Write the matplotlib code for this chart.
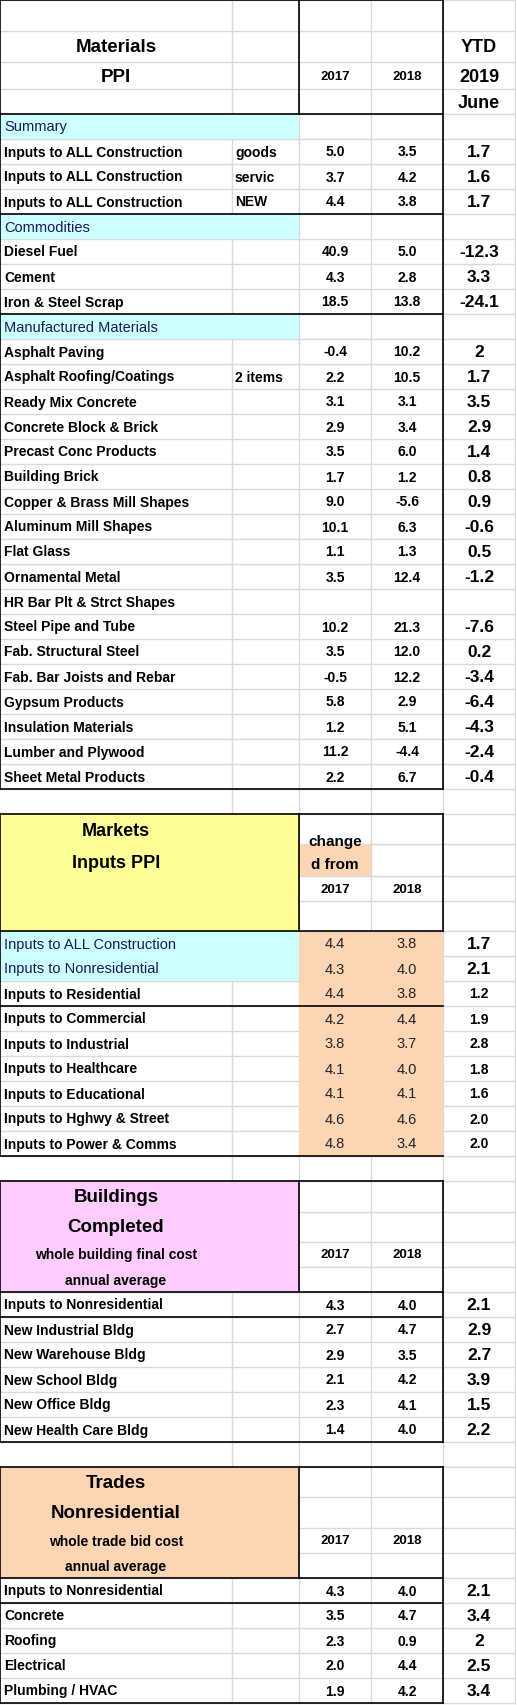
import matplotlib
matplotlib.use("Agg")
import matplotlib.pyplot as plt
from matplotlib.patches import Rectangle

plt.rcParams['font.family'] = ['Liberation Sans', 'DejaVu Sans']

# ---------------- DATA ----------------
mat_labels = ["Summary", "Inputs to ALL Construction", "Inputs to ALL Construction", "Inputs to ALL Construction",
              "Commodities", "Diesel Fuel", "Cement", "Iron & Steel Scrap", "Manufactured Materials",
              "Asphalt Paving", "Asphalt Roofing/Coatings", "Ready Mix Concrete", "Concrete Block & Brick",
              "Precast Conc Products", "Building Brick", "Copper & Brass Mill Shapes", "Aluminum Mill Shapes",
              "Flat Glass", "Ornamental Metal", "HR Bar Plt & Strct Shapes", "Steel Pipe and Tube",
              "Fab. Structural Steel", "Fab. Bar Joists and Rebar", "Gypsum Products", "Insulation Materials",
              "Lumber and Plywood", "Sheet Metal Products"]
mat_sub = ["", "goods", "servic", "NEW", "", "", "", "", "", "", "2 items"] + [""] * 16
mat_2017 = ["", "5.0", "3.7", "4.4", "", "40.9", "4.3", "18.5", "", "-0.4", "2.2", "3.1", "2.9", "3.5",
            "1.7", "9.0", "10.1", "1.1", "3.5", "", "10.2", "3.5", "-0.5", "5.8", "1.2", "11.2", "2.2"]
mat_2018 = ["", "3.5", "4.2", "3.8", "", "5.0", "2.8", "13.8", "", "10.2", "10.5", "3.1", "3.4", "6.0",
            "1.2", "-5.6", "6.3", "1.3", "12.4", "", "21.3", "12.0", "12.2", "2.9", "5.1", "-4.4", "6.7"]
mat_ytd = ["", "1.7", "1.6", "1.7", "", "-12.3", "3.3", "-24.1", "", "2", "1.7", "3.5", "2.9", "1.4",
           "0.8", "0.9", "-0.6", "0.5", "-1.2", "", "-7.6", "0.2", "-3.4", "-6.4", "-4.3", "-2.4", "-0.4"]
mat_cyan = [0, 4, 8]

mkt_labels = ["Inputs to ALL Construction", "Inputs to Nonresidential", "Inputs to Residential",
              "Inputs to Commercial", "Inputs to Industrial", "Inputs to Healthcare", "Inputs to Educational",
              "Inputs to Hghwy & Street", "Inputs to Power & Comms"]
mkt_2017 = ["4.4", "4.3", "4.4", "4.2", "3.8", "4.1", "4.1", "4.6", "4.8"]
mkt_2018 = ["3.8", "4.0", "3.8", "4.4", "3.7", "4.0", "4.1", "4.6", "3.4"]
mkt_ytd = ["1.7", "2.1", "1.2", "1.9", "2.8", "1.8", "1.6", "2.0", "2.0"]

bld_labels = ["Inputs to Nonresidential", "New Industrial Bldg", "New Warehouse Bldg", "New School Bldg",
              "New Office Bldg", "New Health Care Bldg"]
bld_2017 = ["4.3", "2.7", "2.9", "2.1", "2.3", "1.4"]
bld_2018 = ["4.0", "4.7", "3.5", "4.2", "4.1", "4.0"]
bld_ytd = ["2.1", "2.9", "2.7", "3.9", "1.5", "2.2"]

trd_labels = ["Inputs to Nonresidential", "Concrete", "Roofing", "Electrical", "Plumbing / HVAC"]
trd_2017 = ["4.3", "3.5", "2.3", "2.0", "1.9"]
trd_2018 = ["4.0", "4.7", "0.9", "4.4", "4.2"]
trd_ytd = ["2.1", "3.4", "2", "2.5", "3.4"]

# ---------------- LAYOUT ----------------
W, H = 517, 1705
fig = plt.figure(figsize=(W / 100, H / 100), dpi=100)
ax = fig.add_axes([0, 0, 1, 1])
ax.set_xlim(0, W)
ax.set_ylim(H, 0)
ax.axis('off')

COLS = [0, 232, 299, 371, 443, 515]
RH = 25
CYAN, YELLOW, PINK, PEACH = '#CCFFFF', '#FFFF99', '#FFCCFF', '#FCD5B4'
GRID = '#D9D9D9'
NAVY = '#1A1A50'

h_mat = [0, 31, 62, 89, 114]
mat_top = 114
mat_bot = mat_top + RH * len(mat_labels)
mkt_h = [mat_bot + RH, mat_bot + RH + 30, mat_bot + RH + 62, mat_bot + RH + 87, mat_bot + RH + 117]
mkt_top = mkt_h[-1]
mkt_bot = mkt_top + RH * len(mkt_labels)
bld_h = [mkt_bot + RH, mkt_bot + RH + 31, mkt_bot + RH + 61, mkt_bot + RH + 86, mkt_bot + RH + 111]
bld_top = bld_h[-1]
bld_bot = bld_top + RH * len(bld_labels)
trd_h = [bld_bot + RH, bld_bot + RH + 30, bld_bot + RH + 61, bld_bot + RH + 86, bld_bot + RH + 111]
trd_top = trd_h[-1]
trd_bot = trd_top + RH * len(trd_labels)

hlines = set(h_mat + mkt_h + bld_h + trd_h)
for y0, n in [(mat_top, len(mat_labels)), (mkt_top, len(mkt_labels)), (bld_top, len(bld_labels)),
              (trd_top, len(trd_labels))]:
    for i in range(n + 1):
        hlines.add(y0 + i * RH)
for y in sorted(hlines):
    ax.plot([0, COLS[-1]], [y, y], color=GRID, lw=1, zorder=1)
for x in COLS[1:]:
    ax.plot([x, x], [0, trd_bot], color=GRID, lw=1, zorder=1)


def fill(x0, x1, y0, y1, c):
    ax.add_patch(Rectangle((x0, y0), x1 - x0, y1 - y0, facecolor=c, edgecolor='none', zorder=2))


def bl(xs, ys):
    ax.plot(xs, ys, color='black', lw=1.2, zorder=4, solid_capstyle='projecting')


def txt(x, y, s, size=10, bold=True, ha='center', color='black', **kw):
    return ax.text(x, y, s, fontsize=size, fontweight='bold' if bold else 'normal', ha=ha, va='center',
                   color=color, zorder=5, **kw)


XC = [335, 407, 479]

# ---- Materials ----
txt(116, 47, "Materials", 13.5)
txt(116, 77, "PPI", 13.5)
txt(XC[0], 77, "2017", 9.5)
txt(XC[1], 77, "2018", 9.5)
txt(XC[2], 48, "YTD", 13)
txt(XC[2], 77, "2019", 13)
txt(XC[2], 103, "June", 13)
for i, lab in enumerate(mat_labels):
    yc = mat_top + i * RH + RH / 2 + 1
    if i in mat_cyan:
        fill(0, COLS[2], mat_top + i * RH, mat_top + (i + 1) * RH, CYAN)
        txt(4, yc, lab, 10.5, bold=False, ha='left', color=NAVY)
        continue
    txt(4, yc, lab, 10, ha='left')
    if mat_sub[i]:
        txt(235, yc, mat_sub[i], 10, ha='left')
    txt(XC[0], yc, mat_2017[i], 10)
    txt(XC[1], yc, mat_2018[i], 10)
    txt(XC[2], yc, mat_ytd[i], 12.5)
bl([0, 443], [0, 0]); bl([0, 0], [0, mat_bot]); bl([443, 443], [0, mat_bot])
bl([299, 299], [0, mat_top])
for y in [mat_top, mat_top + 4 * RH, mat_top + 8 * RH, mat_bot]:
    bl([0, 443], [y, y])

# ---- Markets ----
fill(0, 299, mkt_h[0], mkt_top, YELLOW)
fill(299, 371, mkt_h[1], mkt_h[2], PEACH)
txt(116, mkt_h[0] + 18, "Markets", 13)
txt(116, mkt_h[0] + 49, "Inputs PPI", 13)
t = txt(XC[0], mkt_h[1] - 2, "change", 11)
t.set_clip_path(Rectangle((299, mkt_h[1]), 72, 32, transform=ax.transData))
txt(XC[0], mkt_h[1] + 21, "d from", 11)
txt(XC[0], mkt_h[2] + 14, "2017", 9.5)
txt(XC[1], mkt_h[2] + 14, "2018", 9.5)
fill(299, 443, mkt_top, mkt_bot, PEACH)
for i, lab in enumerate(mkt_labels):
    yc = mkt_top + i * RH + RH / 2 + 1
    if i < 2:
        fill(0, 299, mkt_top + i * RH, mkt_top + (i + 1) * RH, CYAN)
        txt(4, yc, lab, 10.5, bold=False, ha='left', color=NAVY)
        txt(XC[2], yc, mkt_ytd[i], 12.5)
    else:
        txt(4, yc, lab, 10, ha='left')
        txt(XC[2], yc, mkt_ytd[i], 10)
    txt(XC[0], yc, mkt_2017[i], 10.5, bold=False, color='#222222')
    txt(XC[1], yc, mkt_2018[i], 10.5, bold=False, color='#222222')
bl([0, 443], [mkt_h[0]] * 2); bl([0, 0], [mkt_h[0], mkt_bot])
bl([299, 299], [mkt_h[0], mkt_top]); bl([443, 443], [mkt_h[0], mkt_top])
for y in [mkt_top, mkt_top + 3 * RH, mkt_bot]:
    bl([0, 443], [y, y])


def section(hs, top, bot, color, titles, labels, v17, v18, ytd):
    fill(0, 299, hs[0], top, color)
    for k, (s, size) in enumerate(titles):
        txt(116, (hs[k] + hs[k + 1]) / 2 + 1, s, size)
    yy = (hs[2] + hs[3]) / 2 + 1
    txt(XC[0], yy, "2017", 9.5)
    txt(XC[1], yy, "2018", 9.5)
    for i, lab in enumerate(labels):
        yc = top + i * RH + RH / 2 + 1
        txt(4, yc, lab, 10, ha='left')
        txt(XC[0], yc, v17[i], 10)
        txt(XC[1], yc, v18[i], 10)
        txt(XC[2], yc, ytd[i], 12.5)
    bl([0, 443], [hs[0]] * 2); bl([0, 0], [hs[0], bot])
    bl([299, 299], [hs[0], top]); bl([443, 443], [hs[0], bot])
    for y in [top, top + RH, bot]:
        bl([0, 443], [y, y])


section(bld_h, bld_top, bld_bot, PINK,
        [("Buildings", 13.5), ("Completed", 13.5), ("whole building final cost", 10), ("annual average", 10)],
        bld_labels, bld_2017, bld_2018, bld_ytd)
section(trd_h, trd_top, trd_bot, PEACH,
        [("Trades", 13.5), ("Nonresidential", 13.5), ("whole trade bid cost", 10), ("annual average", 10)],
        trd_labels, trd_2017, trd_2018, trd_ytd)

fig.savefig("out.png", dpi=100, facecolor='white')
